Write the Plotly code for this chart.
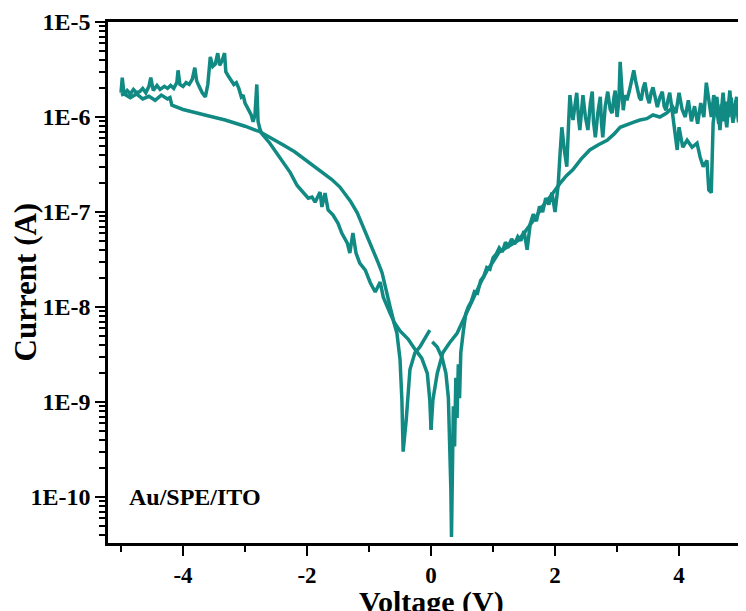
import plotly.graph_objects as go

# ---------------- data ----------------
# Sweep 1: 0 V -> +5 V
v_sweep1 = [0.02, 0.10, 0.18, 0.24, 0.28, 0.30, 0.32, 0.33, 0.34, 0.36, 0.38, 0.40, 0.42, 0.44,
            0.46, 0.48, 0.52, 0.56, 0.60, 0.65, 0.70, 0.75, 0.80, 0.85, 0.90, 0.95, 1.00, 1.05,
            1.10, 1.15, 1.20, 1.25, 1.30, 1.35, 1.40, 1.45, 1.50, 1.55, 1.60, 1.65, 1.70, 1.75,
            1.80, 1.85, 1.90, 1.95, 2.00, 2.05, 2.08, 2.11, 2.15, 2.19, 2.22, 2.24, 2.27, 2.29,
            2.32, 2.35, 2.38, 2.40, 2.43, 2.45, 2.49, 2.53, 2.57, 2.60, 2.62, 2.65, 2.69, 2.73,
            2.75, 2.77, 2.81, 2.85, 2.89, 2.92, 2.95, 2.97, 3.00, 3.03, 3.05, 3.08, 3.10, 3.13,
            3.16, 3.20, 3.23, 3.27, 3.30, 3.32, 3.36, 3.39, 3.42, 3.45, 3.49, 3.52, 3.55, 3.58,
            3.62, 3.65, 3.69, 3.73, 3.76, 3.79, 3.82, 3.85, 3.88, 3.90, 3.97, 4.00, 4.06, 4.13,
            4.21, 4.29, 4.34, 4.39, 4.45, 4.48, 4.52, 4.55, 4.58, 4.61, 4.64, 4.66, 4.69, 4.71,
            4.74, 4.77, 4.80, 4.82, 4.85, 4.87, 4.90, 4.93, 4.96, 4.98, 5.00]
i_sweep1 = [4.3e-9, 3.8e-9, 2.9e-9, 2.0e-9, 1.1e-9, 4e-10, 1.2e-10, 3.8e-11, 2e-10, 9e-10, 3.4e-10,
            1.8e-9, 6.8e-10, 2.5e-9, 1.1e-9, 3.3e-9, 5.5e-9, 8.5e-9, 1.0e-8, 1.15e-8, 1.45e-8,
            1.4e-8, 1.9e-8, 2.1e-8, 2.6e-8, 2.5e-8, 3.3e-8, 3.6e-8, 4.2e-8, 3.8e-8, 4.8e-8, 4.4e-8,
            5.2e-8, 4.6e-8, 5.5e-8, 5.0e-8, 6.3e-8, 4.0e-8, 7.5e-8, 9.5e-8, 8.0e-8, 1.15e-7,
            1.0e-7, 1.4e-7, 1.2e-7, 1.6e-7, 1.0e-7, 1.9e-7, 4.0e-7, 7.8e-7, 4.5e-7, 3.0e-7,
            9.0e-7, 1.7e-6, 1.1e-6, 9.3e-7, 1.3e-6, 1.8e-6, 9.5e-7, 7.3e-7, 1.2e-6, 1.7e-6,
            1.0e-6, 7.3e-7, 1.4e-6, 1.85e-6, 9.0e-7, 6.1e-7, 1.1e-6, 1.63e-6, 8.5e-7, 6.1e-7,
            1.3e-6, 1.85e-6, 1.2e-6, 1.1e-6, 1.6e-6, 1.9e-6, 1.0e-6, 1.5e-6, 3.8e-6, 1.6e-6,
            1.18e-6, 1.7e-6, 1.5e-6, 1.9e-6, 2.3e-6, 3.1e-6, 2.4e-6, 2.05e-6, 1.6e-6, 1.5e-6,
            2.0e-6, 2.3e-6, 1.6e-6, 1.4e-6, 1.8e-6, 2.05e-6, 1.5e-6, 1.27e-6, 1.6e-6, 1.85e-6,
            1.3e-6, 1.18e-6, 1.5e-6, 1.8e-6, 1.3e-6, 1.0e-6, 4.5e-7, 7.8e-7, 4.8e-7, 5.7e-7,
            4.8e-7, 5.3e-7, 3.8e-7, 3.0e-7, 3.5e-7, 1.7e-7, 1.6e-7, 8.7e-7, 1.2e-6, 1.63e-6,
            1.0e-6, 7.3e-7, 1.3e-6, 1.8e-6, 1.1e-6, 7.8e-7, 1.4e-6, 1.9e-6, 1.1e-6, 8.7e-7,
            1.3e-6, 1.63e-6, 1.1e-6, 1.0e-6, 1.3e-6]

# Sweep 2: +5 V -> 0 V
v_sweep2 = [5.00, 4.96, 4.92, 4.88, 4.84, 4.80, 4.76, 4.72, 4.68, 4.64, 4.60, 4.56, 4.52, 4.48,
            4.44, 4.40, 4.35, 4.30, 4.25, 4.20, 4.15, 4.10, 4.05, 4.00, 3.95, 3.90, 3.80, 3.69,
            3.58, 3.48, 3.37, 3.26, 3.15, 3.05, 2.95, 2.84, 2.70, 2.56, 2.42, 2.29, 2.18, 2.08,
            1.92, 1.80, 1.70, 1.60, 1.55, 1.50, 1.40, 1.30, 1.20, 1.10, 1.00, 0.90, 0.80, 0.70,
            0.60, 0.50, 0.42, 0.30, 0.19, 0.10, 0.03, 0.00]
i_sweep2 = [1.3e-6, 8.8e-7, 1.5e-6, 9.5e-7, 1.6e-6, 1.0e-6, 1.45e-6, 9e-7, 1.35e-6, 8.5e-7,
            1.3e-6, 1.7e-6, 1.0e-6, 1.5e-6, 2.3e-6, 1.0e-6, 1.4e-6, 8.5e-7, 1.3e-6, 9e-7, 1.5e-6,
            1.0e-6, 1.2e-6, 1.8e-6, 1.1e-6, 1.27e-6, 1.1e-6, 1.0e-6, 1.05e-6, 9.6e-7, 9.3e-7,
            8.8e-7, 8.2e-7, 7.8e-7, 6.6e-7, 5.7e-7, 5.1e-7, 4.5e-7, 3.6e-7, 2.8e-7, 2.4e-7,
            2.0e-7, 1.44e-7, 1.15e-7, 9e-8, 7.3e-8, 6.8e-8, 6.0e-8, 5.0e-8, 4.6e-8, 4.2e-8,
            3.8e-8, 3.0e-8, 2.4e-8, 1.8e-8, 1.3e-8, 9.5e-9, 7e-9, 5.3e-9, 4.2e-9, 3.3e-9, 2.0e-9,
            1.05e-9, 5.1e-10]

# Sweep 3: 0 V -> -5 V
v_sweep3 = [0.00, -0.02, -0.06, -0.15, -0.26, -0.37, -0.50, -0.60, -0.66, -0.72, -0.79, -0.85,
            -0.92, -0.98, -1.05, -1.12, -1.19, -1.30, -1.47, -1.60, -1.84, -2.00, -2.20, -2.39,
            -2.55, -2.76, -3.00, -3.32, -3.60, -3.87, -4.00, -4.18, -4.21, -4.25, -4.35, -4.45,
            -4.55, -4.65, -4.75, -4.85, -4.95, -5.00]
i_sweep3 = [5.1e-10, 1.05e-9, 2.0e-9, 2.9e-9, 3.6e-9, 4.6e-9, 5.6e-9, 7.0e-9, 1.0e-8, 1.5e-8,
            2.3e-8, 2.9e-8, 3.7e-8, 4.7e-8, 6.0e-8, 7.7e-8, 9.8e-8, 1.3e-7, 1.83e-7, 2.2e-7,
            2.9e-7, 3.5e-7, 4.3e-7, 5.1e-7, 5.8e-7, 7.0e-7, 8.0e-7, 9.3e-7, 1.03e-6, 1.13e-6,
            1.2e-6, 1.33e-6, 1.6e-6, 1.55e-6, 1.7e-6, 1.5e-6, 1.65e-6, 1.55e-6, 1.75e-6, 1.6e-6,
            1.75e-6, 1.7e-6]

# Sweep 4: -5 V -> 0 V
v_sweep4 = [-5.00, -4.98, -4.95, -4.90, -4.85, -4.80, -4.75, -4.70, -4.65, -4.60, -4.55, -4.52,
            -4.48, -4.42, -4.37, -4.30, -4.25, -4.20, -4.15, -4.10, -4.08, -4.05, -4.00, -3.95,
            -3.90, -3.85, -3.81, -3.78, -3.74, -3.69, -3.64, -3.60, -3.56, -3.52, -3.48, -3.44,
            -3.41, -3.37, -3.33, -3.31, -3.27, -3.23, -3.18, -3.14, -3.10, -3.06, -3.03, -3.00,
            -2.95, -2.90, -2.87, -2.84, -2.81, -2.79, -2.76, -2.73, -2.60, -2.39, -2.27, -2.16,
            -2.06, -1.98, -1.92, -1.87, -1.79, -1.76, -1.71, -1.66, -1.58, -1.50, -1.44, -1.35,
            -1.31, -1.26, -1.21, -1.15, -1.06, -0.98, -0.90, -0.82, -0.77, -0.71, -0.66, -0.61,
            -0.55, -0.50, -0.47, -0.45, -0.40, -0.34, -0.26, -0.18, -0.10, -0.02]
i_sweep4 = [1.8e-6, 2.6e-6, 1.7e-6, 1.9e-6, 1.75e-6, 1.95e-6, 1.8e-6, 1.85e-6, 2.0e-6, 1.8e-6,
            2.1e-6, 2.6e-6, 1.9e-6, 2.15e-6, 1.95e-6, 2.1e-6, 2.0e-6, 2.15e-6, 2.0e-6, 2.3e-6,
            3.1e-6, 2.2e-6, 2.1e-6, 2.3e-6, 2.2e-6, 2.5e-6, 3.3e-6, 2.4e-6, 2.1e-6, 1.8e-6,
            1.63e-6, 2.2e-6, 4.3e-6, 3.4e-6, 3.6e-6, 4.7e-6, 3.5e-6, 3.9e-6, 4.7e-6, 3.0e-6,
            2.7e-6, 2.45e-6, 2.2e-6, 2.3e-6, 2.0e-6, 1.63e-6, 1.7e-6, 1.4e-6, 1.2e-6, 1.05e-6,
            8.9e-7, 1.05e-6, 2.2e-6, 9e-7, 7.5e-7, 6.7e-7, 5.3e-7, 3.3e-7, 2.6e-7, 1.9e-7,
            1.58e-7, 1.4e-7, 1.44e-7, 1.27e-7, 1.62e-7, 1.13e-7, 1.58e-7, 1.05e-7, 9.3e-8,
            7.6e-8, 6.0e-8, 4.7e-8, 3.7e-8, 6.0e-8, 3.7e-8, 2.9e-8, 2.45e-8, 1.8e-8, 1.44e-8,
            1.83e-8, 1.27e-8, 1.0e-8, 8.6e-9, 7.3e-9, 5.3e-9, 2.8e-9, 1.05e-9, 3.0e-10, 6.5e-10,
            2.2e-9, 3.3e-9, 3.8e-9, 4.7e-9, 5.7e-9]

y_tick_vals = [1e-10, 1e-9, 1e-8, 1e-7, 1e-6, 1e-5]
y_tick_text = ["1E-10", "1E-9", "1E-8", "1E-7", "1E-6", "1E-5"]
x_tick_vals = [-4, -2, 0, 2, 4]
x_tick_text = ["-4", "-2", "0", "2", "4"]
x_minor_vals = [-5, -3, -1, 1, 3, 5]
x_title = "Voltage (V)"
y_title = "Current (A)"
sample_label = "Au/SPE/ITO"

LINE = "#128a84"
FONT = "Liberation Serif"

fig = go.Figure()
for v, i, name in [(v_sweep1, i_sweep1, "0 → 5 V"), (v_sweep2, i_sweep2, "5 → 0 V"),
                   (v_sweep3, i_sweep3, "0 → -5 V"), (v_sweep4, i_sweep4, "-5 → 0 V")]:
    fig.add_trace(go.Scatter(x=v, y=i, mode="lines", name=name,
                             line=dict(color=LINE, width=3.5)))

y_minor_vals = [k * 10.0 ** e for e in range(-11, -5) for k in range(2, 10)]

# the page body adds an 8 px offset, so the figure is sized to fit the window with it
fig.update_layout(
    width=738, height=603,
    margin=dict(l=100, r=0, t=14, b=68),
    plot_bgcolor="white", paper_bgcolor="white",
    showlegend=False,
    font=dict(family=FONT, color="black"),
    xaxis=dict(
        range=[-5.21, 5.08], automargin=False,
        tickmode="array", tickvals=x_tick_vals, ticktext=x_tick_text,
        ticks="outside", ticklen=10, tickwidth=2, tickcolor="black",
        minor=dict(tickmode="array", tickvals=x_minor_vals, ticks="outside",
                   ticklen=6, tickwidth=2, tickcolor="black", showgrid=False),
        showline=True, linewidth=2.5, linecolor="black", mirror=True,
        showgrid=False, zeroline=False,
        tickfont=dict(family=FONT, size=23, weight="bold"),
    ),
    yaxis=dict(
        type="log", range=[-10.484, -5], automargin=False,
        tickmode="array", tickvals=y_tick_vals, ticktext=y_tick_text,
        ticks="outside", ticklen=10, tickwidth=2, tickcolor="black",
        minor=dict(tickmode="array", tickvals=y_minor_vals, ticks="outside",
                   ticklen=6, tickwidth=1.5, tickcolor="black", showgrid=False),
        showline=True, linewidth=2.5, linecolor="black",
        showgrid=False, zeroline=False,
        tickfont=dict(family=FONT, size=24, weight="bold"),
        ticklabelstandoff=0,
    ),
    annotations=[
        dict(x=-4.9, y=-10, xref="x", yref="y", text=sample_label,
             showarrow=False, xanchor="left", yanchor="middle",
             font=dict(family=FONT, size=24, weight="bold", color="black")),
        dict(x=0, y=0, xref="x", yref="paper", text=x_title, showarrow=False,
             xanchor="center", yanchor="top", yshift=-40,
             font=dict(family=FONT, size=30, weight="bold", color="black")),
        dict(x=0, y=0.5, xref="paper", yref="paper", text=y_title, showarrow=False,
             textangle=-90, xanchor="center", yanchor="middle", xshift=-83,
             font=dict(family=FONT, size=31, weight="bold", color="black")),
    ],
)

fig.write_html("out.html")
